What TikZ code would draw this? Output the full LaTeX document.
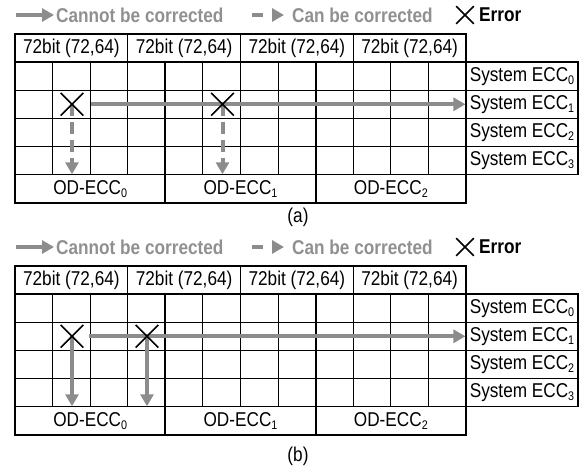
\documentclass[tikz,border=0pt]{standalone}
\usepackage{fontspec}
\setmainfont[FakeStretch=0.86]{Liberation Sans}
\usetikzlibrary{arrows.meta,shapes.misc}
\definecolor{arrgray}{HTML}{8C8C8C}
\definecolor{txtgray}{HTML}{909090}
\pgfdeclarelayer{back}
\pgfdeclarelayer{mid}
\pgfsetlayers{back,mid,main}
\newcommand\subidx[1]{\raisebox{-3pt}{\fontsize{12.5}{13}\selectfont #1}}
\tikzset{
  thinline/.style={line width=1.1pt},
  thickline/.style={line width=2.3pt},
  cell/.style={draw, thinline, inner sep=0pt, font=\fontsize{20}{22}\selectfont},
  garrow/.style={draw=arrgray, line width=4pt, -{Triangle[length=12pt,width=13pt]}},
  gdash/.style={garrow, dash pattern=on 12pt off 6pt},
  xmark/.style={cross out, draw, line width=1.6pt, minimum size=21pt, inner sep=0pt},
  legtext/.style={font=\fontsize{20}{22}\selectfont\bfseries, text=txtgray, inner sep=0pt, anchor=west},
  errtext/.style={font=\fontsize{20}{22}\selectfont\bfseries, text=black, inner sep=0pt, anchor=west},
  captext/.style={font=\fontsize{20}{22}\selectfont, inner sep=0pt},
}
\newcommand\eccpanel[1]{%
  \begin{pgfonlayer}{back}
    \foreach \i in {0,1,2,3}
      \node[cell, minimum width=112.75pt, minimum height=28pt] (h\i#1) at ({15+112.75*\i+56.375},48) {72bit (72,64)};
    \foreach \c in {1,2,3,5,6,7,9,10,11}
      \draw[thinline] ({15+37.583*\c},62) -- ({15+37.583*\c},174.8);
    \foreach \r in {1,2,3}
      \draw[thinline] (15,{62+28.2*\r}) -- (466,{62+28.2*\r});
    \foreach \k in {0,1,2}
      \node[cell, minimum width=150.33pt, minimum height=28.2pt] (o\k#1) at ({15+150.333*\k+75.167},188.9) {OD-ECC\subidx{\k}};
    \foreach \k in {0,1,2,3}
      \node[cell, minimum width=112pt, minimum height=28.2pt] (s\k#1) at (522,{62+28.2*\k+14.1}) {System ECC\subidx{\k}};
    \draw[thickline] (15,62) rectangle (466,203);
    \draw[thickline] (165.33,62) -- (165.33,203);
    \draw[thickline] (315.67,62) -- (315.67,203);
  \end{pgfonlayer}
  % legend
  \node[legtext] (lc#1) at (56,15) {Cannot be corrected};
  \coordinate (lcs#1) at (16,15);
  \node[legtext] (lk#1) at (292,15) {Can be corrected};
  \coordinate (lks#1) at (252,15);
  \node[xmark, minimum size=16pt] (lx#1) at (465,15) {};
  \node[errtext] (le#1) at (479,15) {Error};
  \begin{pgfonlayer}{mid}
    \draw[garrow] (lcs#1) -- ([xshift=-2pt]lc#1.west);
    \draw[gdash, dash pattern=on 11pt off 20pt] (lks#1) -- ([xshift=-8pt]lk#1.west);
  \end{pgfonlayer}
}
\begin{document}
\begin{tikzpicture}[x=1pt,y=-1pt]
\useasboundingbox (0,0) rectangle (584,472);
% ---------- panel (a)
\eccpanel{a}
\node[xmark] (xa1) at (72,104.3) {};
\node[xmark] (xa2) at (222.5,104.3) {};
\coordinate (hsa) at (91,104.3);
\begin{pgfonlayer}{mid}
  \draw[garrow] (hsa) -- (s1a.west);
  \draw[gdash] (xa1.center) -- (xa1.center |- o0a.north);
  \draw[gdash] (xa2.center) -- (xa2.center |- o1a.north);
\end{pgfonlayer}
\node[captext] (capa) at (298,217) {(a)};
% ---------- panel (b)
\begin{scope}[yshift=-232pt]
\eccpanel{b}
\node[xmark] (xb1) at (72,104.3) {};
\node[xmark] (xb2) at (147,104.3) {};
\coordinate (hsb) at (89,104.3);
\begin{pgfonlayer}{mid}
  \draw[garrow] (hsb) -- (s1b.west);
  \draw[garrow] (xb1.center) -- (xb1.center |- o0b.north);
  \draw[garrow] (xb2.center) -- (xb2.center |- o0b.north);
\end{pgfonlayer}
\node[captext] (capb) at (298,224) {(b)};
\end{scope}
\end{tikzpicture}
\end{document}
